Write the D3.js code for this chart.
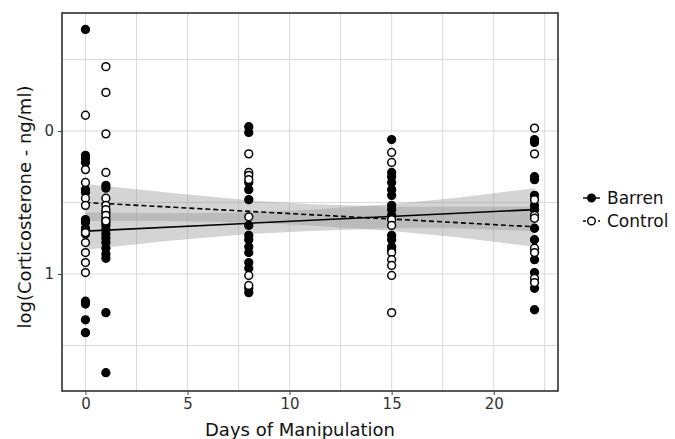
<!DOCTYPE html>
<html>
<head>
<meta charset="utf-8">
<script src="https://cdn.jsdelivr.net/npm/d3@7"></script>
<style>
  body { margin: 0; background: #fff; }
  text { font-family: "DejaVu Sans", Verdana, sans-serif; }
</style>
</head>
<body>
<svg id="chart" width="675" height="439"></svg>
<script>
// days sampled
const days = [0, 1, 8, 15, 22]

// log(Corticosterone) values, one array per day
const barren0 = [-0.71, 0.17, 0.19, 0.22, 0.41, 0.43, 0.62, 0.64, 0.68, 0.70, 0.72, 1.19, 1.21, 1.32, 1.41]
const control0 = [-0.11, 0.27, 0.36, 0.47, 0.52, 0.71, 0.78, 0.85, 0.92, 0.99]
const barren1 = [0.38, 0.40, 0.57, 0.61, 0.64, 0.66, 0.69, 0.72, 0.75, 0.78, 0.82, 0.86, 0.89, 1.27, 1.69]
const control1 = [-0.45, -0.27, 0.02, 0.29, 0.47, 0.52, 0.55, 0.59, 0.63]
const barren8 = [-0.03, 0.01, 0.36, 0.41, 0.48, 0.66, 0.73, 0.76, 0.81, 0.85, 0.92, 0.96, 1.10, 1.13]
const control8 = [0.16, 0.29, 0.31, 0.34, 0.60, 1.01, 1.08]
const barren15 = [0.06, 0.29, 0.32, 0.36, 0.41, 0.45, 0.52, 0.55, 0.59, 0.73, 0.76, 0.81, 0.83]
const control15 = [0.15, 0.22, 0.62, 0.66, 0.85, 0.90, 0.94, 1.01, 1.27]
const barren22 = [0.06, 0.08, 0.32, 0.34, 0.45, 0.52, 0.55, 0.68, 0.76, 0.90, 0.99, 1.10, 1.25]
const control22 = [-0.02, 0.16, 0.48, 0.59, 0.61, 0.82, 0.85, 1.03, 1.06]

const barrenVals = [barren0, barren1, barren8, barren15, barren22]
const controlVals = [control0, control1, control8, control15, control22]

// fitted lines (ends) and confidence bands
const fitX = [0, 22]
const barrenFit = [0.70, 0.55]
const controlFit = [0.50, 0.67]
const bandX = [0, 4, 8, 11, 15, 18, 22]
const barrenLo = [0.57, 0.575, 0.57, 0.55, 0.51, 0.47, 0.40]
const barrenHi = [0.83, 0.77, 0.72, 0.70, 0.68, 0.68, 0.70]
const controlLo = [0.37, 0.43, 0.485, 0.51, 0.53, 0.53, 0.53]
const controlHi = [0.63, 0.63, 0.64, 0.66, 0.70, 0.74, 0.81]

const xTicks = [0, 5, 10, 15, 20]
const yTicks = [0, 1]

const svg = d3.select('#chart')
const pLeft = 62, pRight = 558, pTop = 13, pBottom = 391

const x = d3.scaleLinear().domain([-1.15, 23.15]).range([pLeft, pRight])
const y = d3.scaleLinear().domain([-0.825, 1.818]).range([pTop, pBottom])

// grid
const grid = svg.append('g')
d3.range(-2.5, 25, 2.5).filter(d => x(d) > pLeft && x(d) < pRight).forEach(d => {
  grid.append('line').attr('x1', x(d)).attr('x2', x(d)).attr('y1', pTop).attr('y2', pBottom)
    .attr('stroke', '#dadada').attr('stroke-width', 1)
})
d3.range(-0.5, 2, 0.5).filter(d => y(d) > pTop && y(d) < pBottom).forEach(d => {
  grid.append('line').attr('x1', pLeft).attr('x2', pRight).attr('y1', y(d)).attr('y2', y(d))
    .attr('stroke', '#dadada').attr('stroke-width', 1)
})

// bands
const area = (lo, hi) => d3.area()
  .x((d, i) => x(bandX[i]))
  .y0((d, i) => y(lo[i]))
  .y1((d, i) => y(hi[i]))(bandX)

svg.append('path').attr('d', area(barrenLo, barrenHi)).attr('fill', '#999').attr('fill-opacity', 0.42)
svg.append('path').attr('d', area(controlLo, controlHi)).attr('fill', '#999').attr('fill-opacity', 0.42)

// fit lines
const line = vals => d3.line().x((d, i) => x(fitX[i])).y((d, i) => y(vals[i]))(fitX)
svg.append('path').attr('d', line(barrenFit)).attr('stroke', '#000').attr('stroke-width', 1.6).attr('fill', 'none')
svg.append('path').attr('d', line(controlFit)).attr('stroke', '#000').attr('stroke-width', 1.6)
  .attr('stroke-dasharray', '5,3').attr('fill', 'none')

// points
const pts = []
days.forEach((d, i) => {
  barrenVals[i].forEach(v => pts.push({ day: d, v: v, g: 'Barren' }))
  controlVals[i].forEach(v => pts.push({ day: d, v: v, g: 'Control' }))
})

svg.append('g').selectAll('circle')
  .data(pts)
  .enter()
  .append('circle')
  .attr('cx', d => x(d.day))
  .attr('cy', d => y(d.v))
  .attr('r', 3.9)
  .attr('fill', d => d.g == 'Barren' ? '#000' : '#fff')
  .attr('stroke', '#000')
  .attr('stroke-width', 1.5)

// panel border
svg.append('rect').attr('x', pLeft).attr('y', pTop).attr('width', pRight - pLeft).attr('height', pBottom - pTop)
  .attr('fill', 'none').attr('stroke', '#222').attr('stroke-width', 1.5)

// axes
const xAxis = svg.append('g').attr('transform', `translate(0,${pBottom})`)
  .call(d3.axisBottom(x).tickValues(xTicks).tickSize(4).tickPadding(3))
const yAxis = svg.append('g').attr('transform', `translate(${pLeft},0)`)
  .call(d3.axisLeft(y).tickValues(yTicks).tickFormat(d3.format('d')).tickSize(4).tickPadding(4))
;[xAxis, yAxis].forEach(a => {
  a.select('.domain').remove()
  a.selectAll('line').attr('stroke', '#444')
  a.selectAll('text').attr('fill', '#333').style('font-size', '15px')
})

svg.append('text').attr('x', 300).attr('y', 436).attr('text-anchor', 'middle')
  .style('font-size', '18px').attr('fill', '#111').text('Days of Manipulation')
svg.append('text').attr('transform', 'translate(31,207) rotate(-90)').attr('text-anchor', 'middle')
  .style('font-size', '18px').attr('fill', '#111').text('log(Corticosterone - ng/ml)')

// legend
const legend = [
  { name: 'Barren', fill: '#000', dash: null },
  { name: 'Control', fill: '#fff', dash: '3,2' }
]
const lg = svg.append('g')
legend.forEach((d, i) => {
  const ly = 198 + i * 23
  lg.append('line').attr('x1', 583).attr('x2', 600).attr('y1', ly).attr('y2', ly)
    .attr('stroke', '#000').attr('stroke-width', 1.4).attr('stroke-dasharray', d.dash)
  lg.append('circle').attr('cx', 591.5).attr('cy', ly).attr('r', 3.8)
    .attr('fill', d.fill).attr('stroke', '#000').attr('stroke-width', 1.4)
  lg.append('text').attr('x', 607).attr('y', ly).attr('dy', '0.36em')
    .style('font-size', '17px').attr('fill', '#111').text(d.name)
})
</script>
</body>
</html>
